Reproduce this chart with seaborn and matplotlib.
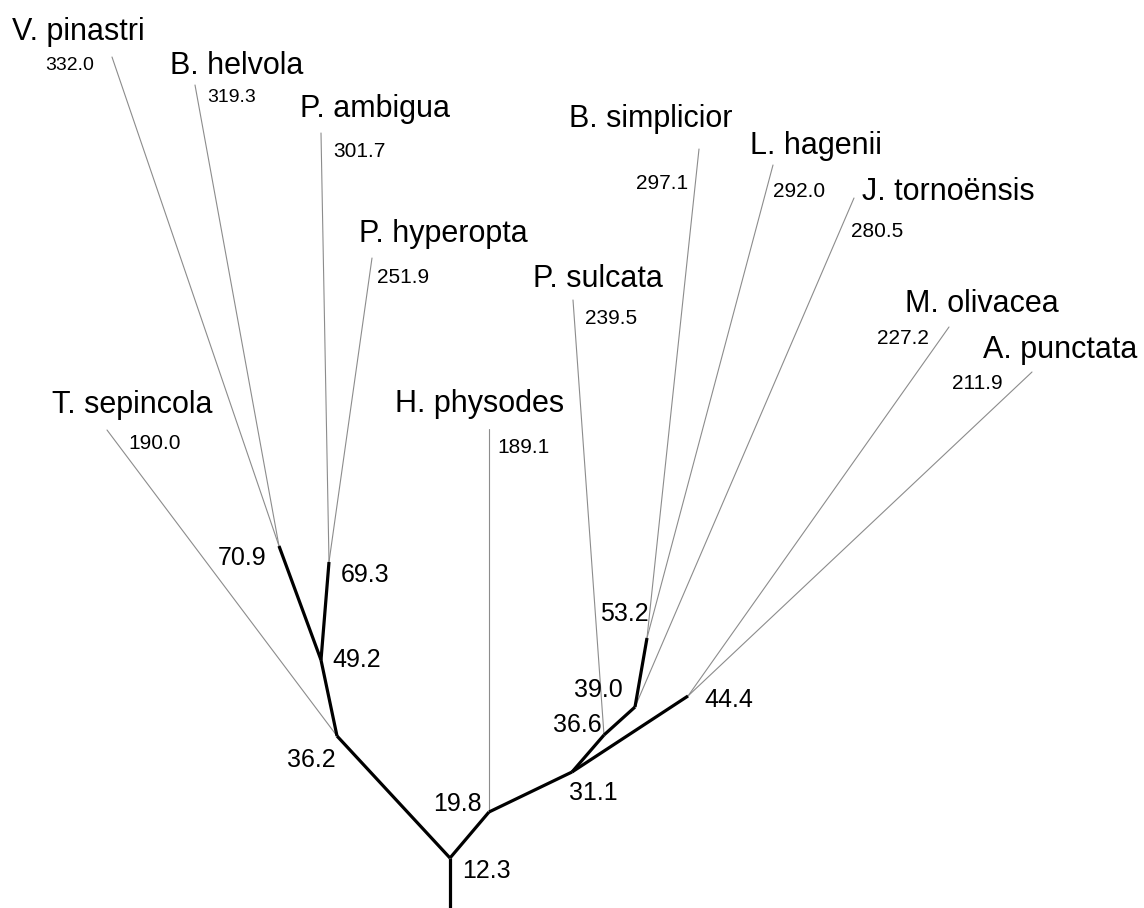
import matplotlib
matplotlib.use("Agg")
import matplotlib.pyplot as plt
import seaborn as sns
import pandas as pd

sns.set_theme(style="white")
plt.rcParams['font.family'] = ['Liberation Sans', 'DejaVu Sans']

# Internal nodes: label, x, y, parent, label position (x, baseline y)
node_names = ["root", "12.3", "36.2", "49.2", "70.9", "69.3", "19.8", "31.1", "36.6", "39.0", "53.2", "44.4"]
node_x = [450, 450, 337, 321, 279, 329, 489, 572, 604, 635, 647, 688]
node_y = [908, 858, 736, 660, 546, 562, 812, 772, 735, 707, 638, 696]
node_parent = [None, "root", "12.3", "36.2", "49.2", "49.2", "12.3", "19.8", "31.1", "36.6", "39.0", "31.1"]
node_label_x = [None, 462, 287, 332, 218, 341, 433, 569, 553, 574, 600, 704]
node_label_y = [None, 878, 767, 667, 565, 582, 811, 800, 732, 697, 621, 707]

# Leaves: species, branch value, tip x/y, parent, name & value label positions
leaf_names = ["V. pinastri", "B. helvola", "P. ambigua", "P. hyperopta", "T. sepincola",
              "H. physodes", "P. sulcata", "B. simplicior", "L. hagenii", "J. tornoënsis",
              "M. olivacea", "A. punctata"]
leaf_values = ["332.0", "319.3", "301.7", "251.9", "190.0", "189.1", "239.5", "297.1",
               "292.0", "280.5", "227.2", "211.9"]
leaf_x = [112, 195, 321, 372, 107, 489, 573, 699, 773, 854, 949, 1032]
leaf_y = [57, 85, 133, 258, 430, 429, 300, 149, 165, 198, 327, 372]
leaf_parent = ["70.9", "70.9", "69.3", "69.3", "36.2", "19.8", "36.6", "53.2", "53.2", "39.0", "44.4", "44.4"]
name_x = [12, 170, 300, 359, 52, 395, 533, 569, 750, 862, 905, 983]
name_y = [40, 74, 117, 242, 413, 412, 287, 127, 154, 200, 312, 358]
value_x = [45, 207, 333, 377, 128, 497, 585, 636, 773, 851, 877, 952]
value_y = [70, 102, 157, 283, 449, 453, 324, 189, 197, 237, 344, 389]
value_size = [14, 14, 15, 15, 15, 15, 15, 15, 15, 15, 15, 15]

pos = {n: (x, y) for n, x, y in zip(node_names, node_x, node_y)}

thick_rows = []
for i, (n, p) in enumerate(zip(node_names, node_parent)):
    if p is None:
        continue
    thick_rows.append(dict(edge=i, x=pos[p][0], y=pos[p][1]))
    thick_rows.append(dict(edge=i, x=pos[n][0], y=pos[n][1]))
thin_rows = []
for i, (lx, ly, p) in enumerate(zip(leaf_x, leaf_y, leaf_parent)):
    thin_rows.append(dict(edge=i, x=pos[p][0], y=pos[p][1]))
    thin_rows.append(dict(edge=i, x=lx, y=ly))
thick = pd.DataFrame(thick_rows)
thin = pd.DataFrame(thin_rows)

fig = plt.figure(figsize=(11.44, 9.08), dpi=100)
ax = fig.add_axes([0, 0, 1, 1])

sns.lineplot(data=thin, x="x", y="y", units="edge", estimator=None, sort=False,
             color="#8c8c8c", linewidth=0.8, ax=ax)
sns.lineplot(data=thick, x="x", y="y", units="edge", estimator=None, sort=False,
             color="black", linewidth=2.3, ax=ax, solid_capstyle="butt")

for lbl, lx, ly in zip(node_names, node_label_x, node_label_y):
    if lx is None:
        continue
    ax.text(lx, ly, lbl, fontsize=18, ha="left", va="baseline", color="black")
for nm, v, nx, ny, vx, vy, vs in zip(leaf_names, leaf_values, name_x, name_y, value_x, value_y, value_size):
    ax.text(nx, ny, nm, fontsize=22, ha="left", va="baseline", color="black")
    ax.text(vx, vy, v, fontsize=vs, ha="left", va="baseline", color="black")

ax.set_xlim(0, 1144)
ax.set_ylim(908, 0)
ax.set_axis_off()
fig.savefig("out.png", dpi=100, facecolor="white")
